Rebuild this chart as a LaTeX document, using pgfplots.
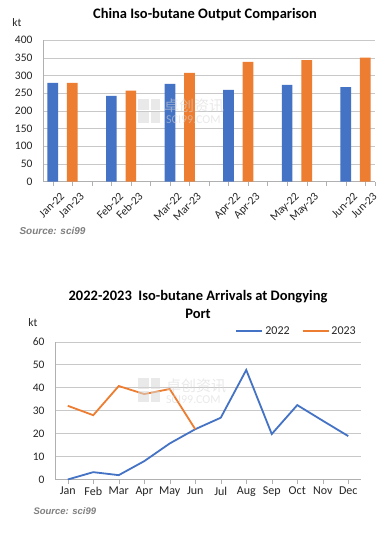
\documentclass[border=0pt]{standalone}
\usepackage{pgfplots}
\pgfplotsset{compat=1.18}
\usepackage{fontspec}
\setmainfont{Carlito}
\newfontfamily\arialfont{Liberation Sans}
\newfontfamily\cjk{Noto Sans CJK SC}
\definecolor{cblue}{HTML}{4472C4}
\definecolor{corange}{HTML}{ED7D31}
\definecolor{gridgray}{HTML}{C8C8C8}
\definecolor{axgray}{HTML}{B0B0B0}
\definecolor{txt}{HTML}{262626}
\definecolor{srcgray}{HTML}{7F7F7F}
\definecolor{wm}{HTML}{D8D8D8}
\begin{document}
\begin{tikzpicture}
\useasboundingbox (0,0) rectangle (390pt,-534pt);
\fill[white] (0,0) rectangle (390pt,-534pt);
% ---------- top chart ----------
\node[font=\bfseries\fontsize{14.5}{16}\selectfont, text=black] at (205pt,-15pt) {China Iso-butane Output Comparison};
\node[font=\fontsize{11.5}{13}\selectfont, text=txt] at (17pt,-23pt) {kt};
\begin{axis}[
  at={(43pt,-181.7pt)}, anchor=south west, scale only axis,
  width=332pt, height=141.7pt,
  xmin=-0.5, xmax=16.5, ymin=0, ymax=400,
  ytick={0,50,...,400},
  axis x line*=bottom, axis y line*=left,
  axis line style={draw=axgray,-},
  ymajorgrids, grid style={gridgray},
  xtick={0,...,16},
  xticklabels={Jan-22,Jan-23,,Feb-22,Feb-23,,Mar-22,Mar-23,,Apr-22,Apr-23,,May-22,May-23,,Jun-22,Jun-23},
  extra x ticks={16.5}, extra x tick labels={},
  x tick label style={rotate=45, anchor=north east, font=\fontsize{11.5}{13}\selectfont, text=txt, inner sep=1pt, xshift=2pt, yshift=-8pt},
  y tick label style={font=\fontsize{11.5}{13}\selectfont, text=txt, xshift=-3pt},
  /pgf/number format/assume math mode=true,
  tick align=outside, major tick length=4pt,
  ytick style={draw=none}, xtick style={draw=axgray},
]
\addplot[ybar, bar shift=0pt, bar width=10.7pt, fill=cblue, draw=none] coordinates {
  (0,279) (3,242) (6,276) (9,259) (12,273) (15,267)};
\addplot[ybar, bar shift=0pt, bar width=10.7pt, fill=corange, draw=none] coordinates {
  (1,279) (4,257) (7,307) (10,338) (13,343) (16,350)};
\end{axis}
% watermark top
\begin{scope}[opacity=0.55]
\fill[wm] (138pt,-99pt) rectangle (149pt,-110pt);
\fill[wm] (151pt,-99pt) rectangle (160pt,-110pt);
\fill[wm] (138pt,-112pt) rectangle (149pt,-123pt);
\fill[wm] (151pt,-112pt) rectangle (160pt,-123pt);
\node[font=\cjk\fontsize{15}{16}\selectfont, text=wm, anchor=west, inner sep=0pt] at (164pt,-106pt) {卓创资讯};
\node[font=\fontsize{12}{13}\selectfont, text=wm, anchor=west, inner sep=0pt] at (166pt,-120pt) {SCI99.COM};
\end{scope}
\node[anchor=west, font=\arialfont\bfseries\itshape\fontsize{10}{12}\selectfont, text=srcgray] at (16pt,-231pt) {Source: sci99};
% ---------- bottom chart ----------
\node[font=\bfseries\fontsize{14.5}{18}\selectfont, text=black, align=center] at (198pt,-304pt) {2022-2023\ \ Iso-butane Arrivals at Dongying\\Port};
\node[font=\fontsize{11.5}{13}\selectfont, text=txt] at (33pt,-323pt) {kt};
\begin{axis}[
  at={(55pt,-479.5pt)}, anchor=south west, scale only axis,
  width=306pt, height=137.8pt,
  xmin=-0.5, xmax=11.5, ymin=0, ymax=60,
  ytick={0,10,...,60},
  axis x line*=bottom, axis y line*=left,
  axis line style={draw=axgray,-},
  ymajorgrids, grid style={gridgray},
  xtick={0,...,11},
  xticklabels={Jan,Feb,Mar,Apr,May,Jun,Jul,Aug,Sep,Oct,Nov,Dec},
  x tick label style={font=\fontsize{12}{14}\selectfont, text=txt},
  y tick label style={font=\fontsize{11.5}{13}\selectfont, text=txt, xshift=-3pt},
  /pgf/number format/assume math mode=true,
  tick align=outside, major tick length=4pt,
  ytick style={draw=none}, xtick style={draw=axgray},
  legend columns=2,
  legend style={at={(1,1)}, anchor=south east, yshift=2pt, draw=none, fill=none,
    font=\fontsize{12}{14}\selectfont, text=txt,
    /tikz/every even column/.append style={column sep=10pt}},
  legend image code/.code={\draw[#1] (0pt,0pt) -- (26pt,0pt);},
]
\addplot[cblue, line width=1.8pt] coordinates {
  (0,0) (1,3.2) (2,1.9) (3,8) (4,15.7) (5,21.9) (6,26.9) (7,47.7) (8,19.8) (9,32.4) (10,25.6) (11,18.9)};
\addlegendentry{2022}
\addplot[corange, line width=1.8pt] coordinates {
  (0,32.1) (1,28) (2,40.7) (3,37.2) (4,39.4) (5,21.9)};
\addlegendentry{2023}
\end{axis}
% watermark bottom
\begin{scope}[opacity=0.55]
\fill[wm] (138pt,-378pt) rectangle (149pt,-389pt);
\fill[wm] (151pt,-378pt) rectangle (160pt,-389pt);
\fill[wm] (138pt,-391pt) rectangle (149pt,-402pt);
\fill[wm] (151pt,-391pt) rectangle (160pt,-402pt);
\node[font=\cjk\fontsize{15}{16}\selectfont, text=wm, anchor=west, inner sep=0pt] at (166pt,-386pt) {卓创资讯};
\node[font=\fontsize{12}{13}\selectfont, text=wm, anchor=west, inner sep=0pt] at (166pt,-400pt) {SCI99.COM};
\end{scope}
\node[anchor=west, font=\arialfont\bfseries\itshape\fontsize{9.5}{11}\selectfont, text=srcgray] at (30pt,-511pt) {Source: sci99};
\end{tikzpicture}
\end{document}
